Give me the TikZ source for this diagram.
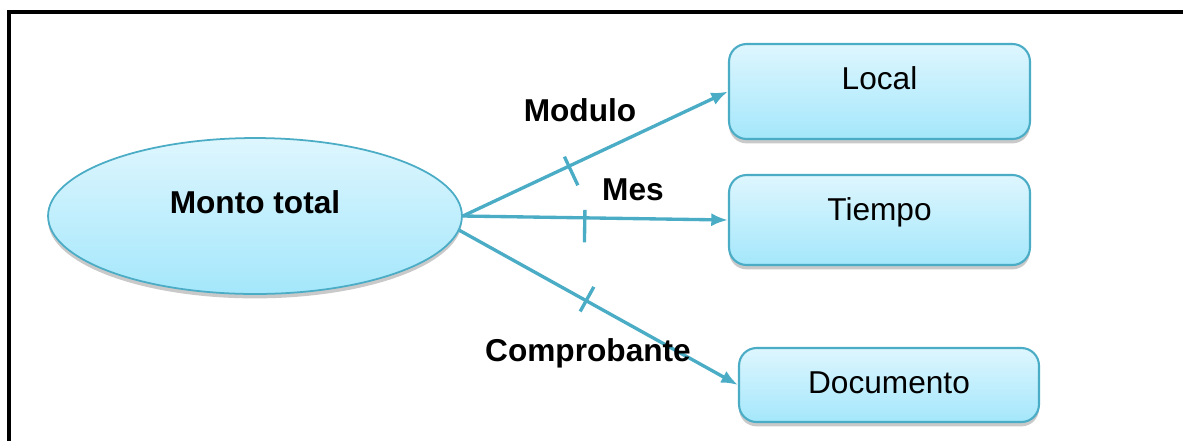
\documentclass[tikz,border=0pt]{standalone}
\usepackage{fontspec}
\setmainfont{Liberation Sans}
\usetikzlibrary{arrows.meta,calc,shadows,shapes.geometric}

\definecolor{lineblue}{RGB}{75,172,198}
\definecolor{filltop}{RGB}{222,246,254}
\definecolor{fillbot}{RGB}{164,231,251}

\tikzset{
  entity/.style={draw=lineblue, line width=1.2pt, rounded corners=10pt,
    top color=filltop, bottom color=fillbot, inner sep=0pt,
    text height=13pt, font=\fontsize{18}{20}\selectfont,
    drop shadow={shadow xshift=0pt, shadow yshift=-2.5pt, opacity=.3, fill=black!70}},
  fact/.style={ellipse, draw=lineblue, line width=1pt,
    top color=filltop, bottom color=fillbot, inner sep=0pt,
    text height=13pt, font=\fontsize{18}{20}\selectfont\bfseries,
    drop shadow={shadow xshift=0pt, shadow yshift=-2.5pt, opacity=.3, fill=black!70}},
  conn/.style={draw=lineblue, line width=1.9pt, -{Latex[length=9.5pt, width=7.5pt]}},
  tickmark/.style={draw=lineblue, line width=1.9pt},
  lbl/.style={font=\fontsize{18}{20}\selectfont\bfseries, inner sep=0pt}
}

\begin{document}
\begin{tikzpicture}[x=0.02cm, y=-0.02cm]
\useasboundingbox (0,0) rectangle (1183,441);

% frame
\draw[line width=2.3pt] (9.3,441) |- (1183,11.7);

% nodes
\node[fact, minimum width=8.28cm, minimum height=3.12cm, text depth=15.9pt] (monto) at (255,216) {Monto total};

\node[entity, minimum width=6.02cm, minimum height=1.9cm, text depth=15.3pt] (local) at (879.5,91.5) {Local};
\node[entity, minimum width=6.02cm, minimum height=1.8cm, text depth=12pt] (tiempo) at (879.5,220) {Tiempo};
\node[entity, minimum width=6.0cm, minimum height=1.48cm, text depth=3.4pt] (docu) at (889,385) {Documento};

% connectors
\draw[conn] (monto.east) -- coordinate[pos=.40] (t1) (local.west);
\draw[conn] (monto.east) -- coordinate[pos=.46] (t2) (tiempo.west);
\draw[conn] (monto.-4) -- coordinate[pos=.455] (t3) (docu.west);

% ticks
\draw[tickmark] ($(t1)!6pt!90:(local.west)$) -- ($(t1)!12pt!-90:(local.west)$);
\draw[tickmark] ($(t2)!4.5pt!90:(tiempo.west)$) -- ($(t2)!14pt!-90:(tiempo.west)$);
\draw[tickmark] ($(t3)!9pt!90:(docu.west)$) -- ($(t3)!7pt!-90:(docu.west)$);

% labels
\node[lbl] (modulo) at (580,110) {Modulo};
\node[lbl] (mes) at (633,190) {Mes};
\node[lbl] (compro) at (588,353) {Comprobante};

\end{tikzpicture}
\end{document}
